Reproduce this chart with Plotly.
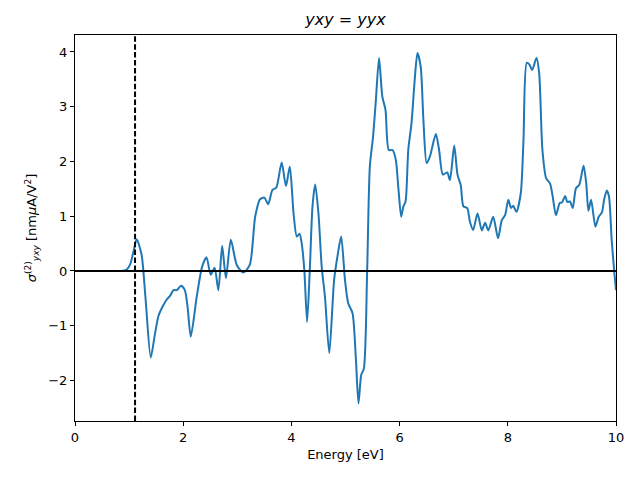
import plotly.graph_objects as go

energy = [0.0, 0.5, 0.85, 0.95, 1.02, 1.08, 1.14, 1.23, 1.30, 1.40, 1.47, 1.54, 1.62, 1.69, 1.76, 1.82, 1.88, 1.96, 2.03, 2.08,
          2.14, 2.25, 2.35, 2.43, 2.51, 2.58, 2.65, 2.72, 2.79, 2.88, 2.99, 3.11, 3.23, 3.33, 3.42, 3.50,
          3.57, 3.65, 3.72, 3.82, 3.90, 3.97, 4.04, 4.10, 4.15, 4.19, 4.24, 4.29, 4.34, 4.39, 4.44, 4.50,
          4.56, 4.62, 4.70, 4.79, 4.86, 4.92, 4.99, 5.05, 5.13, 5.19, 5.24, 5.29, 5.34, 5.40, 5.45, 5.51,
          5.56, 5.62, 5.68, 5.74, 5.80, 5.87, 5.93, 5.98, 6.03, 6.07, 6.11, 6.16, 6.22, 6.28, 6.33, 6.39,
          6.44, 6.50, 6.56, 6.67, 6.73, 6.80, 6.88, 6.93, 7.01, 7.07, 7.13, 7.18, 7.25, 7.30, 7.36, 7.44,
          7.52, 7.58, 7.64, 7.73, 7.82, 7.89, 7.95, 8.01, 8.06, 8.10, 8.16, 8.24, 8.29, 8.35, 8.40, 8.45,
          8.53, 8.58, 8.64, 8.71, 8.78, 8.83, 8.89, 8.96, 9.00, 9.06, 9.10, 9.15, 9.20, 9.26, 9.32, 9.40,
          9.45, 9.49, 9.54, 9.62, 9.68, 9.74, 9.78, 9.83, 9.87, 9.92, 9.97, 10.0]
sigma = [0.0, 0.0, 0.0, 0.02, 0.12, 0.35, 0.58, 0.30, -0.45, -1.58, -1.20, -0.83, -0.65, -0.53, -0.45, -0.35, -0.35, -0.27, -0.35, -0.65,
         -1.20, -0.47, 0.08, 0.25, -0.07, 0.06, -0.35, 0.46, -0.13, 0.57, 0.11, -0.03, 0.11, 0.99, 1.31, 1.34,
         1.22, 1.48, 1.52, 1.98, 1.55, 1.91, 1.05, 0.63, 0.68, 0.51, 0.0, -0.93, 0.02, 1.18, 1.58, 1.05,
         0.08, -0.47, -1.50, -0.16, 0.32, 0.63, -0.16, -0.59, -0.77, -1.57, -2.42, -1.90, -1.78, 0.0, 1.91, 2.46,
         3.10, 3.89, 3.19, 2.94, 2.21, 2.21, 2.03, 1.48, 0.99, 1.18, 1.27, 2.21, 2.70, 3.50, 3.98, 3.73,
         2.76, 1.97, 2.09, 2.50, 2.21, 1.76, 1.80, 1.66, 2.29, 1.76, 1.57, 1.18, 1.15, 0.90, 0.75, 1.05,
         0.74, 0.88, 0.74, 0.99, 0.60, 0.93, 1.02, 1.30, 1.15, 1.19, 1.08, 1.42, 2.39, 3.80, 3.77, 3.67,
         3.89, 3.61, 2.21, 1.69, 1.60, 1.36, 1.02, 1.24, 1.25, 1.37, 1.26, 1.27, 1.15, 1.51, 1.57, 1.92,
         1.60, 1.10, 1.30, 0.81, 0.99, 1.07, 1.30, 1.47, 1.36, 0.57, -0.04, -0.35]

band_gap = 1.11
x_ticks = [0, 2, 4, 6, 8, 10]
y_ticks = [-2, -1, 0, 1, 2, 3, 4]

fig = go.Figure()
fig.add_trace(go.Scatter(x=energy, y=sigma, mode="lines",
                         line=dict(color="#1f77b4", width=2, shape="spline", smoothing=0.7),
                         showlegend=False))
fig.add_shape(type="line", xref="x", yref="y", x0=0, x1=10, y0=0, y1=0,
              line=dict(color="black", width=2))
fig.add_shape(type="line", xref="x", yref="paper", x0=band_gap, x1=band_gap, y0=0, y1=1,
              line=dict(color="black", width=2, dash="5.5px,2.4px"))

fig.update_layout(
    width=640, height=480,
    margin=dict(l=75, r=24, t=35, b=59),
    plot_bgcolor="white", paper_bgcolor="white",
    font=dict(family="DejaVu Sans", size=13, color="black"),
    title=dict(text="<i>yxy</i> = <i>yyx</i>", x=0.5, xref="paper", y=0.96, yanchor="middle",
               font=dict(size=16)),
    xaxis=dict(range=[0, 10], tickvals=x_ticks, showline=True, mirror=True, linecolor="black",
               linewidth=1, ticks="outside", ticklen=4, tickcolor="black", showgrid=False,
               zeroline=False, tickfont=dict(size=13),
               title=dict(text="Energy [eV]", standoff=6, font=dict(size=13))),
    yaxis=dict(range=[-2.74, 4.31], tickvals=y_ticks, showline=True, mirror=True, linecolor="black",
               linewidth=1, ticks="outside", ticklen=4, tickcolor="black", showgrid=False,
               zeroline=False, tickfont=dict(size=13),
               title=dict(text="<i>σ</i><sup>(2)</sup><sub><i>yxy</i></sub> [nm<i>μ</i>A/V<sup>2</sup>]",
                          standoff=8, font=dict(size=13))),
)
fig.write_html("out.html")
